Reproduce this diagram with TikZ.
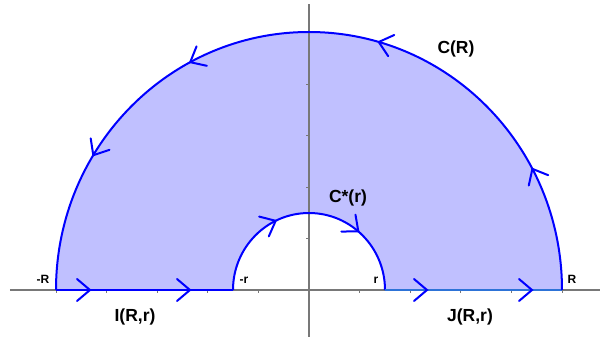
\documentclass[tikz,border=0pt]{standalone}
\usepackage{fontspec}
\setmainfont{Liberation Sans}
\definecolor{regionfill}{RGB}{192,192,255}
\definecolor{contourblue}{RGB}{0,0,255}
\definecolor{jblue}{RGB}{45,115,215}
\definecolor{axisgray}{RGB}{120,120,120}
\begin{document}
\begin{tikzpicture}[x=1pt,y=1pt,
  contour/.style={draw=contourblue,line width=2pt},
  jline/.style={draw=jblue,line width=2pt},
  axisline/.style={draw=axisgray,line width=1.2pt},
  tick/.style={draw=axisgray,line width=0.8pt},
  biglabel/.style={font=\fontsize{17.5}{20}\selectfont\bfseries,inner sep=0pt},
  smalllabel/.style={font=\fontsize{12}{14}\selectfont\bfseries,inner sep=0pt},
  chev/.pic={\draw[contour,line cap=round] (-13,11) -- (0,0) -- (-13,-11);}]
\useasboundingbox (-309,-47) rectangle (291,290);
% shaded region
\fill[regionfill] (-253,0) -- (-76,0) arc[start angle=180,end angle=0,x radius=76,y radius=77]
  -- (253,0) arc[start angle=0,end angle=180,x radius=253,y radius=258] -- cycle;
% axes
\coordinate (xl) at (-299,0);
\coordinate (xr) at (291,0);
\coordinate (yb) at (0,-47);
\coordinate (yt) at (0,286);
\draw[axisline] (xl) -- (xr);
\draw[axisline] (yb) -- (yt);
\foreach \k in {-5,-4,-3,-2,-1,1,2,3,4,5}{
  \draw[tick] (\k*50.6,0) -- (\k*50.6,-3);
}
\foreach \k in {1,2,3,4,5}{
  \draw[tick] (0,\k*51.5) -- (-3,\k*51.5);
}
% contour points
\coordinate (mR) at (-253,0);
\coordinate (mr) at (-76,0);
\coordinate (pr) at (76,0);
\coordinate (pR) at (253,0);
% I segment
\draw[contour] (mR) -- (mr);
% small arc (clockwise)
\draw[contour] (mr) arc[start angle=180,end angle=0,x radius=76,y radius=77];
% J segment
\draw[jline] (pr) -- (pR);
% big arc (counterclockwise)
\draw[contour] (pR) arc[start angle=0,end angle=180,x radius=253,y radius=258];
% arrowheads
\pic at (-219,0) {chev};
\pic at (-119,0) {chev};
\pic at (118,0) {chev};
\pic at (223,0) {chev};
\pic[rotate=26] at (116:76 and 77) {chev};
\pic[rotate=-40] at (49.5:76 and 77) {chev};
\pic[rotate=118] at (28:253 and 258) {chev};
\pic[rotate=164] at (74:253 and 258) {chev};
\pic[rotate=208] at (118:253 and 258) {chev};
\pic[rotate=238.5] at (148.5:253 and 258) {chev};
% labels
\node[smalllabel] (lmR) at (-266,11) {-R};
\node[smalllabel] (lmr) at (-65,10) {-r};
\node[smalllabel] (lpr) at (67,10) {r};
\node[smalllabel] (lpR) at (263,11) {R};
\node[biglabel] (lI) at (-174,-27) {I(R,r)};
\node[biglabel] (lJ) at (161,-27) {J(R,r)};
\node[biglabel] (lCs) at (39,92) {C*(r)};
\node[biglabel] (lC) at (147,241) {C(R)};
\end{tikzpicture}
\end{document}
